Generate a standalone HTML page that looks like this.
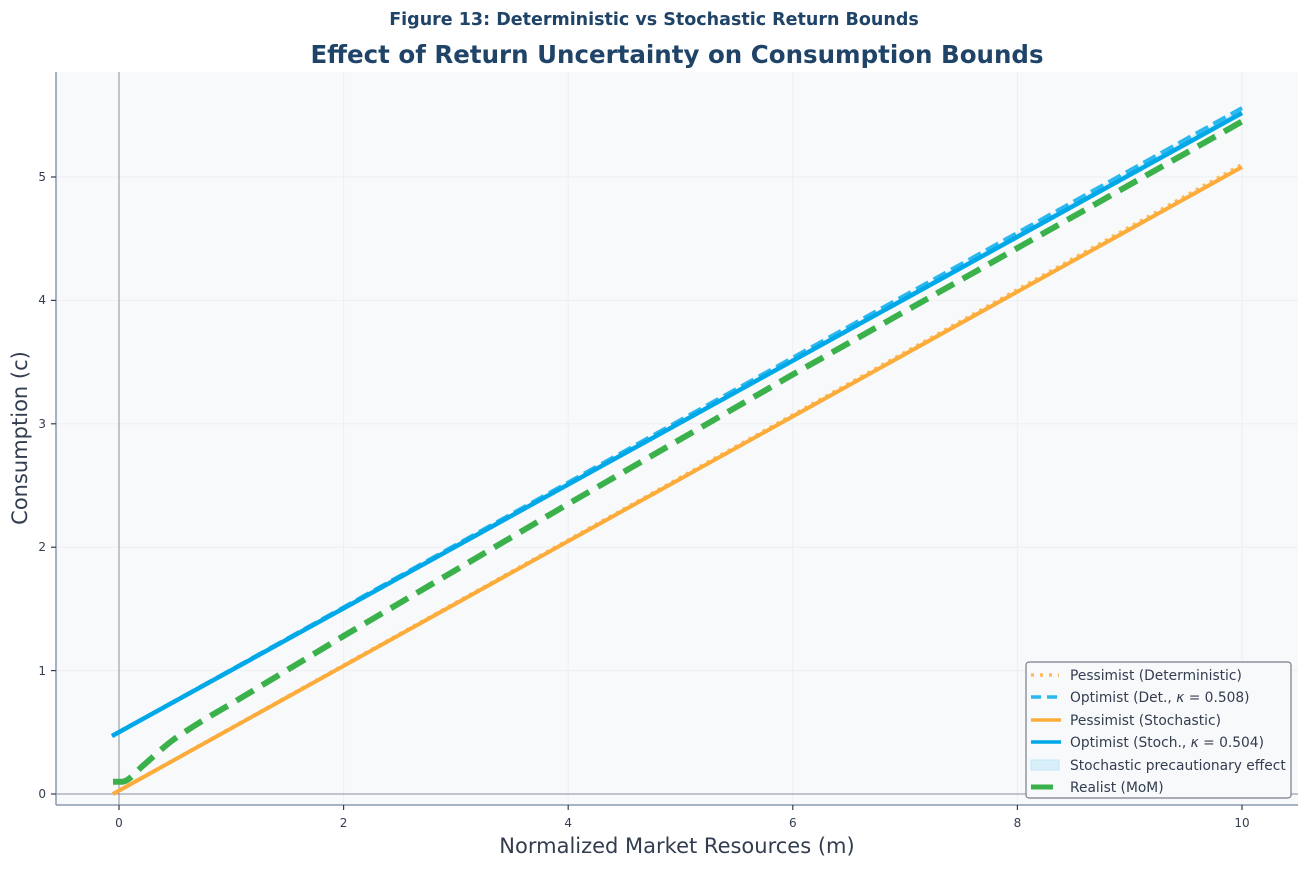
<!DOCTYPE html>
<html><head><meta charset="utf-8"><style>
body{margin:0;background:#fff;}
svg text{font-family:"DejaVu Sans","Liberation Sans",sans-serif;}
</style></head><body>
<svg width="1308" height="867" viewBox="0 0 1308 867" xmlns="http://www.w3.org/2000/svg">
<rect x="0" y="0" width="1308" height="867" fill="#fff"/>
<text x="654" y="25" text-anchor="middle" font-size="17.5" font-weight="bold" fill="#1f4468">Figure 13: Deterministic vs Stochastic Return Bounds</text>
<text x="677" y="63" text-anchor="middle" font-size="24.5" font-weight="bold" fill="#1f4468">Effect of Return Uncertainty on Consumption Bounds</text>
<rect x="56" y="72" width="1242" height="733" fill="#f8f9fb"/>
<g stroke="#eceff3" stroke-width="1">
<line x1="119" y1="72" x2="119" y2="805"/><line x1="343.6" y1="72" x2="343.6" y2="805"/><line x1="568.2" y1="72" x2="568.2" y2="805"/><line x1="792.8" y1="72" x2="792.8" y2="805"/><line x1="1017.4" y1="72" x2="1017.4" y2="805"/><line x1="1242" y1="72" x2="1242" y2="805"/>
<line x1="56" y1="670.6" x2="1298" y2="670.6"/><line x1="56" y1="547.2" x2="1298" y2="547.2"/><line x1="56" y1="423.8" x2="1298" y2="423.8"/><line x1="56" y1="300.4" x2="1298" y2="300.4"/><line x1="56" y1="177" x2="1298" y2="177"/>
</g>
<line x1="119" y1="72" x2="119" y2="805" stroke="#8a8f9c" stroke-width="1"/>
<line x1="56" y1="794" x2="1298" y2="794" stroke="#8a8f9c" stroke-width="1"/>
<polygon points="112,736 1242,108 1242,113 112,736" fill="#bfe6f7" opacity="0.5"/>
<line x1="113" y1="794" x2="1242" y2="164.7" stroke="#fdbb5a" stroke-width="4" stroke-dasharray="3,5"/>
<line x1="113" y1="794" x2="1242" y2="167" stroke="#fbac3a" stroke-width="4"/>
<line x1="112" y1="736" x2="1242" y2="108" stroke="#2ab8ef" stroke-width="4" stroke-dasharray="14,6"/>
<line x1="112" y1="736" x2="1242" y2="113" stroke="#00a8e8" stroke-width="4.5"/>
<path d="M113,781.7 L122,781.7 C128,781.7 133,775 141.5,767 C152,758 162,748 175,738.5 C195,725 210,716 231,704 L343.6,636 L568,504 L793,374.4 L1242,121.5" fill="none" stroke="#3ab14a" stroke-width="6" stroke-dasharray="20,10"/>
<g stroke="#8a9ab0" stroke-width="1.5" fill="none"><line x1="56" y1="72" x2="56" y2="805"/><line x1="56" y1="805" x2="1298" y2="805"/></g>
<g stroke="#333d50" stroke-width="1.2">
<line x1="119" y1="805" x2="119" y2="810"/><line x1="343.6" y1="805" x2="343.6" y2="810"/><line x1="568.2" y1="805" x2="568.2" y2="810"/><line x1="792.8" y1="805" x2="792.8" y2="810"/><line x1="1017.4" y1="805" x2="1017.4" y2="810"/><line x1="1242" y1="805" x2="1242" y2="810"/>
<line x1="51" y1="794" x2="56" y2="794"/><line x1="51" y1="670.6" x2="56" y2="670.6"/><line x1="51" y1="547.2" x2="56" y2="547.2"/><line x1="51" y1="423.8" x2="56" y2="423.8"/><line x1="51" y1="300.4" x2="56" y2="300.4"/><line x1="51" y1="177" x2="56" y2="177"/>
</g>
<g font-size="12" fill="#333d50" text-anchor="middle">
<text x="119" y="827">0</text><text x="343.6" y="827">2</text><text x="568.2" y="827">4</text><text x="792.8" y="827">6</text><text x="1017.4" y="827">8</text><text x="1242" y="827">10</text>
</g>
<g font-size="12" fill="#333d50" text-anchor="end">
<text x="46" y="798">0</text><text x="46" y="675">1</text><text x="46" y="551">2</text><text x="46" y="428">3</text><text x="46" y="304">4</text><text x="46" y="181">5</text>
</g>
<text x="677" y="853" text-anchor="middle" font-size="21" fill="#333d50">Normalized Market Resources (m)</text>
<text transform="translate(27,438) rotate(-90)" text-anchor="middle" font-size="21" fill="#333d50">Consumption (c)</text>
<rect x="1026" y="662" width="265" height="136" rx="3" fill="#f8f9fb" stroke="#777d88" stroke-width="1.2"/>
<g stroke-width="3.5">
<line x1="1031" y1="675" x2="1059" y2="675" stroke="#fdbb5a" stroke-dasharray="3,6"/>
<line x1="1031" y1="697" x2="1059" y2="697" stroke="#2ab8ef" stroke-dasharray="10,6"/>
<line x1="1031" y1="720" x2="1061" y2="720" stroke="#fbac3a"/>
<line x1="1031" y1="742" x2="1061" y2="742" stroke="#00a8e8"/>
<line x1="1031" y1="787" x2="1053" y2="787" stroke="#3ab14a" stroke-width="5"/>
</g>
<rect x="1031" y="760" width="28" height="10" fill="#d8eff9" stroke="#bfe6f7"/>
<g font-size="13.8" fill="#333d50">
<text x="1070" y="680">Pessimist (Deterministic)</text>
<text x="1070" y="702">Optimist (Det., <tspan font-style="italic">κ</tspan> = 0.508)</text>
<text x="1070" y="725">Pessimist (Stochastic)</text>
<text x="1070" y="747">Optimist (Stoch., <tspan font-style="italic">κ</tspan> = 0.504)</text>
<text x="1070" y="770">Stochastic precautionary effect</text>
<text x="1070" y="792">Realist (MoM)</text>
</g>
</svg>
</body></html>
